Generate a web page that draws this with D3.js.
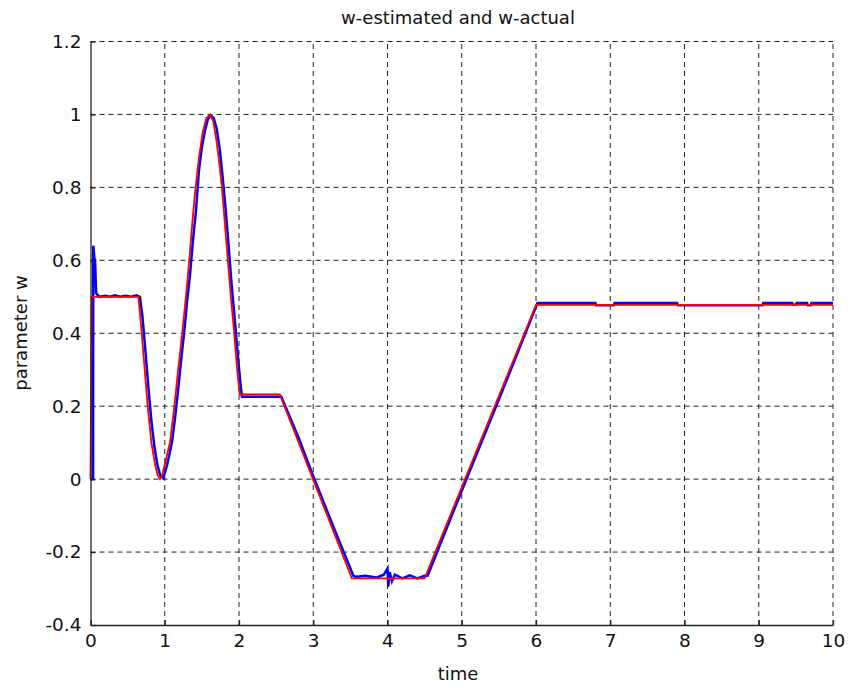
<!DOCTYPE html>
<html>
<head>
<meta charset="utf-8">
<script src="https://cdn.jsdelivr.net/npm/d3@7"></script>
<style>
  html, body { margin: 0; padding: 0; background: #ffffff; }
  svg { display: block; }
  text { font-family: "DejaVu Sans", sans-serif; fill: #111; }
</style>
</head>
<body>
<svg id="chart" width="848" height="688"></svg>
<script>
// ---- data ----
const titleText = "w-estimated and w-actual";
const xLabelText = "time";
const yLabelText = "parameter w";

const xTicks = [0, 1, 2, 3, 4, 5, 6, 7, 8, 9, 10];
const xTickLabels = ["0", "1", "2", "3", "4", "5", "6", "7", "8", "9", "10"];
const yTicks = [-0.4, -0.2, 0, 0.2, 0.4, 0.6, 0.8, 1, 1.2];
const yTickLabels = ["-0.4", "-0.2", "0", "0.2", "0.4", "0.6", "0.8", "1", "1.2"];

// w-actual (red)
const actualT = [0, 0.015, 0.645, 0.69, 0.73, 0.77, 0.82, 0.87, 0.905, 0.935, 0.965, 1.0, 1.07, 1.13, 1.18, 1.235,
  1.285, 1.33, 1.37, 1.41, 1.46, 1.51, 1.56, 1.61, 1.655, 1.695, 1.73, 1.77, 1.81, 1.85, 1.89, 1.935, 1.975, 2.01,
  2.55, 3.52, 4.5, 6.0, 10];
const actualW = [0, 0.5, 0.5, 0.4, 0.3, 0.2, 0.1, 0.04, 0.01, 0, 0.01, 0.04, 0.1, 0.2, 0.3, 0.4,
  0.5, 0.6, 0.7, 0.79, 0.88, 0.95, 0.99, 1.0, 0.98, 0.93, 0.875, 0.8, 0.7, 0.6, 0.5, 0.4, 0.3, 0.232,
  0.232, -0.272, -0.272, 0.478, 0.478];

// w-estimated (blue)
const estT = [0, 0.035, 0.037, 0.055, 0.062, 0.075, 0.12, 0.2, 0.26, 0.33, 0.4, 0.47, 0.55, 0.62,
  0.665, 0.70, 0.74, 0.78, 0.82, 0.86, 0.90, 0.94, 0.98, 1.02, 1.06, 1.10, 1.14, 1.18, 1.22, 1.26, 1.30,
  1.34, 1.38, 1.42, 1.46, 1.50, 1.54, 1.58, 1.62, 1.66, 1.70, 1.74, 1.78, 1.82, 1.86, 1.90, 1.94, 1.98,
  2.02, 2.04, 2.57, 2.8, 3.0, 3.3, 3.54, 3.58, 3.70, 3.85, 3.95, 4.0, 4.01, 4.03, 4.06, 4.1, 4.2, 4.3,
  4.4, 4.5, 4.54, 5.0, 5.5, 6.02, 6.8, 6.81, 7.05, 7.06, 7.9, 7.91, 9.05, 9.06, 9.45, 9.46, 9.5, 9.51,
  9.65, 9.66, 9.7, 9.71, 10];
const estW = [0, 0, 0.64, 0.6, 0.6, 0.51, 0.5, 0.503, 0.5, 0.504, 0.5, 0.503, 0.5, 0.504,
  0.5, 0.445, 0.35, 0.25, 0.16, 0.09, 0.04, 0.01, 0.003, 0.03, 0.065, 0.105, 0.17, 0.245, 0.325, 0.4, 0.485,
  0.56, 0.655, 0.735, 0.845, 0.91, 0.954, 0.986, 0.997, 0.99, 0.96, 0.906, 0.828, 0.74, 0.64, 0.535, 0.445, 0.35,
  0.26, 0.226, 0.226, 0.115, 0.008, -0.145, -0.265, -0.268, -0.265, -0.27, -0.262, -0.245, -0.295, -0.255, -0.28, -0.262, -0.272, -0.264,
  -0.272, -0.265, -0.265, -0.032, 0.218, 0.483, 0.483, 0.477, 0.477, 0.483, 0.483, 0.477, 0.477, 0.483, 0.483, 0.478, 0.478, 0.483,
  0.483, 0.477, 0.477, 0.483, 0.483];

// ---- drawing ----
const svg = d3.select("#chart");
const plotLeft = 90.5, plotRight = 833, plotTop = 41.5, plotBottom = 625;

const x = d3.scaleLinear().domain([0, 10]).range([plotLeft, plotRight]);
const y = d3.scaleLinear().domain([-0.4, 1.2]).range([plotBottom, plotTop]);

// grid
const grid = svg.append("g").attr("stroke", "#222").attr("stroke-width", 1).attr("stroke-dasharray", "5,4");
grid.selectAll("line.v").data(xTicks.slice(1)).join("line").attr("class", "v")
  .attr("x1", d => x(d)).attr("x2", d => x(d)).attr("y1", plotBottom).attr("y2", plotTop);
grid.selectAll("line.h").data(yTicks.slice(1)).join("line").attr("class", "h")
  .attr("y1", d => y(d)).attr("y2", d => y(d)).attr("x1", plotLeft).attr("x2", plotRight);

// lines
const estData = estT.map((t, i) => [t, estW[i]]);
const actData = actualT.map((t, i) => [t, actualW[i]]);

svg.append("path").datum(estData)
  .attr("fill", "none").attr("stroke", "#0000ff").attr("stroke-width", 2.5)
  .attr("d", d3.line().x(d => x(d[0])).y(d => y(d[1])));

svg.append("path").datum(actData)
  .attr("fill", "none").attr("stroke", "#ff0000").attr("stroke-width", 1.8)
  .attr("d", d3.line().x(d => x(d[0])).y(d => y(d[1])));

// axes
const xAxis = d3.axisBottom(x).tickValues(xTicks)
  .tickFormat((d, i) => xTickLabels[i]).tickSizeInner(-5).tickSizeOuter(0).tickPadding(9);
const yAxis = d3.axisLeft(y).tickValues(yTicks)
  .tickFormat((d, i) => yTickLabels[i]).tickSizeInner(-5).tickSizeOuter(0).tickPadding(9);

const gx = svg.append("g").attr("transform", `translate(0,${plotBottom})`).call(xAxis);
const gy = svg.append("g").attr("transform", `translate(${plotLeft},0)`).call(yAxis);
[gx, gy].forEach(g => {
  g.select(".domain").attr("stroke", "#222").attr("stroke-width", 1.3);
  g.selectAll(".tick line").attr("stroke", "#222").attr("stroke-width", 1.3);
  g.selectAll(".tick text").attr("font-family", "DejaVu Sans").attr("font-size", 18.5).attr("fill", "#111");
});

// title and labels
svg.append("text").attr("x", 458).attr("y", 24).attr("text-anchor", "middle")
  .attr("font-size", 18).text(titleText);
svg.append("text").attr("x", 458).attr("y", 680).attr("text-anchor", "middle")
  .attr("font-size", 18).text(xLabelText);
svg.append("text").attr("transform", "translate(27,333) rotate(-90)").attr("text-anchor", "middle")
  .attr("font-size", 18).text(yLabelText);
</script>
</body>
</html>
